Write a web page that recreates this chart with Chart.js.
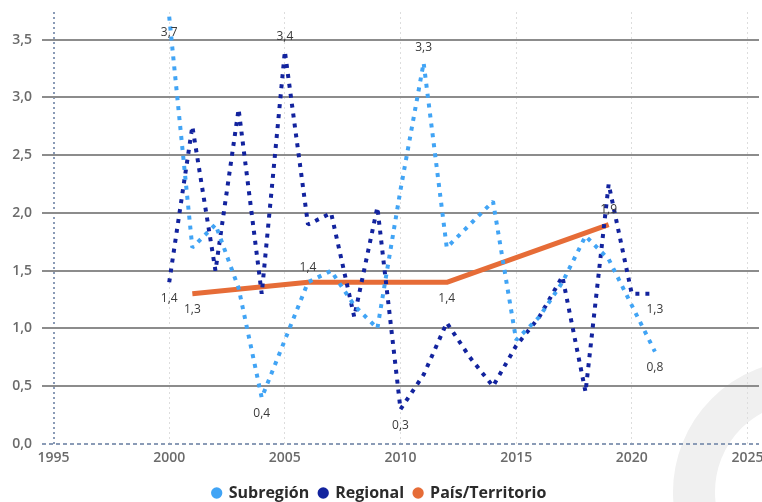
<!DOCTYPE html>
<html lang="es">
<head>
    <meta charset="UTF-8">
    <title>Subregión, Regional y País/Territorio</title>
    <script src="https://cdn.jsdelivr.net/npm/chart.js"></script>
    <style>
        html, body { margin: 0; padding: 0; background: #ffffff; }
        #wrap { width: 762px; height: 502px; }
    </style>
</head>
<body>
<div id="wrap"><canvas id="grafico" width="762" height="502"></canvas></div>
<script>
    // --- datos ---
    const years = [2000, 2001, 2002, 2003, 2004, 2005, 2006, 2007, 2008, 2009, 2010,
                   2011, 2012, 2013, 2014, 2015, 2016, 2017, 2018, 2019, 2020, 2021];
    const subregion = [3.7, 1.7, 1.9, 1.35, 0.4, 0.9, 1.4, 1.5, 1.2, 1.0, 2.2,
                       3.3, 1.7, 1.9, 2.1, 0.9, 1.1, 1.4, 1.8, 1.6, 1.2, 0.8];
    const regional = [1.4, 2.75, 1.5, 2.9, 1.3, 3.4, 1.9, 2.0, 1.1, 2.05, 0.3,
                      0.6, 1.05, 0.75, 0.5, 0.85, 1.1, 1.45, 0.45, 2.25, 1.3, 1.3];
    const paisYears = [2001, 2006, 2012, 2019];
    const pais = [1.3, 1.4, 1.4, 1.9];

    const xTicks = [1995, 2000, 2005, 2010, 2015, 2020, 2025];
    const yTicks = [0, 0.5, 1, 1.5, 2, 2.5, 3, 3.5];

    // años con etiqueta de dato
    const subregionLabels = [2000, 2004, 2011, 2021];
    const regionalLabels = [2000, 2005, 2010, 2021];
    const paisLabels = [2001, 2006, 2012, 2019];

    const toPoints = (xs, ys) => xs.map((x, i) => ({ x: x, y: ys[i] }));
    const fmt = v => v.toFixed(1).replace(".", ",");

    Chart.defaults.font.family = "'Open Sans', sans-serif";

    // anillo gris claro del fondo (marca de agua)
    const watermark = {
        id: "watermark",
        beforeDraw(chart) {
            const ctx = chart.ctx;
            ctx.save();
            ctx.strokeStyle = "#f0f0f0";
            ctx.lineWidth = 42;
            ctx.beginPath();
            ctx.arc(805, 492, 111, 0, Math.PI * 2);
            ctx.stroke();
            ctx.restore();
        }
    };

    // línea del cero discontinua
    const zeroLine = {
        id: "zeroLine",
        beforeDatasetsDraw(chart) {
            const { ctx, chartArea, scales } = chart;
            const y0 = scales.y.getPixelForValue(0);
            ctx.save();
            ctx.strokeStyle = "#8a9bb6";
            ctx.lineWidth = 2;
            ctx.setLineDash([4, 3]);
            ctx.beginPath();
            ctx.moveTo(chartArea.left, y0);
            ctx.lineTo(chartArea.right, y0);
            ctx.stroke();
            ctx.restore();
        }
    };

    // etiquetas de datos
    const dataLabels = {
        id: "dataLabels",
        afterDatasetsDraw(chart) {
            const ctx = chart.ctx;
            ctx.save();
            ctx.font = "12px 'Open Sans', sans-serif";
            ctx.fillStyle = "#3a3a3a";
            ctx.textAlign = "center";
            ctx.textBaseline = "middle";
            chart.data.datasets.forEach((ds, di) => {
                const meta = chart.getDatasetMeta(di);
                ds.data.forEach((p, i) => {
                    const side = ds.labelSide[p.x];
                    if (!side) return;
                    const el = meta.data[i];
                    const dy = side === "above" ? -15 : 16;
                    ctx.fillText(fmt(p.y), el.x, el.y + dy);
                });
            });
            ctx.restore();
        }
    };

    const sides = (list, pos) => {
        const o = {};
        list.forEach((y, i) => { o[y] = pos[i]; });
        return o;
    };

    const keepTicks = list => scale => {
        scale.ticks = list.map(v => ({ value: v }));
    };

    new Chart(document.getElementById("grafico"), {
        type: "line",
        data: {
            datasets: [
                {
                    label: "Subregión",
                    data: toPoints(years, subregion),
                    borderColor: "#41a4f5",
                    backgroundColor: "#41a4f5",
                    borderWidth: 4,
                    borderDash: [4, 6],
                    borderJoinStyle: "bevel",
                    pointRadius: 0,
                    labelSide: sides(subregionLabels, ["below", "below", "above", "below"])
                },
                {
                    label: "Regional",
                    data: toPoints(years, regional),
                    borderColor: "#12239e",
                    backgroundColor: "#12239e",
                    borderWidth: 4,
                    borderDash: [4, 6],
                    borderJoinStyle: "bevel",
                    pointRadius: 0,
                    labelSide: sides(regionalLabels, ["below", "above", "below", "below"])
                },
                {
                    label: "País/Territorio",
                    data: toPoints(paisYears, pais),
                    borderColor: "#e66c37",
                    backgroundColor: "#e66c37",
                    borderWidth: 5,
                    borderJoinStyle: "round",
                    pointRadius: 0,
                    labelSide: sides(paisLabels, ["below", "above", "below", "above"])
                }
            ]
        },
        options: {
            responsive: false,
            animation: false,
            layout: { padding: { top: 12, right: 3, left: 0, bottom: -9 } },
            scales: {
                x: {
                    type: "linear",
                    min: 1994.5,
                    max: 2025.5,
                    afterBuildTicks: keepTicks(xTicks),
                    afterFit: s => { s.height = 31; s.paddingLeft = 0; s.paddingRight = 0; },
                    border: { display: false, dash: [2, 3] },
                    grid: {
                        drawTicks: false,
                        color: c => c.tick && c.tick.value === 1995 ? "#8a9bb6" : "#dddddd",
                        lineWidth: c => c.tick && c.tick.value === 1995 ? 2 : 1
                    },
                    ticks: {
                        padding: 6,
                        color: "#6b6b6b",
                        font: { size: 14, weight: "600" },
                        callback: v => String(v)
                    }
                },
                y: {
                    min: 0,
                    max: 3.74,
                    afterBuildTicks: keepTicks(yTicks),
                    afterFit: s => { s.width = 42; s.paddingTop = 0; s.paddingBottom = 0; },
                    border: { display: false },
                    grid: {
                        drawTicks: false,
                        color: c => c.tick && c.tick.value === 0 ? "rgba(0,0,0,0)" : "#8c8c8c",
                        lineWidth: 2
                    },
                    ticks: {
                        padding: 10,
                        color: "#6b6b6b",
                        font: { size: 14, weight: "600" },
                        callback: v => fmt(v)
                    }
                }
            },
            plugins: {
                tooltip: { enabled: false },
                legend: {
                    position: "bottom",
                    labels: {
                        usePointStyle: true,
                        boxWidth: 8,
                        boxHeight: 8,
                        padding: 10,
                        color: "#2b2b2b",
                        font: { size: 16, weight: "bold" },
                        generateLabels: chart => chart.data.datasets.map((ds, i) => ({
                            text: ds.label,
                            fillStyle: ds.borderColor,
                            strokeStyle: ds.borderColor,
                            lineWidth: 0,
                            pointStyle: "circle",
                            fontColor: "#2b2b2b",
                            datasetIndex: i,
                            hidden: false
                        }))
                    }
                }
            }
        },
        plugins: [watermark, zeroLine, dataLabels]
    });
</script>
</body>
</html>
